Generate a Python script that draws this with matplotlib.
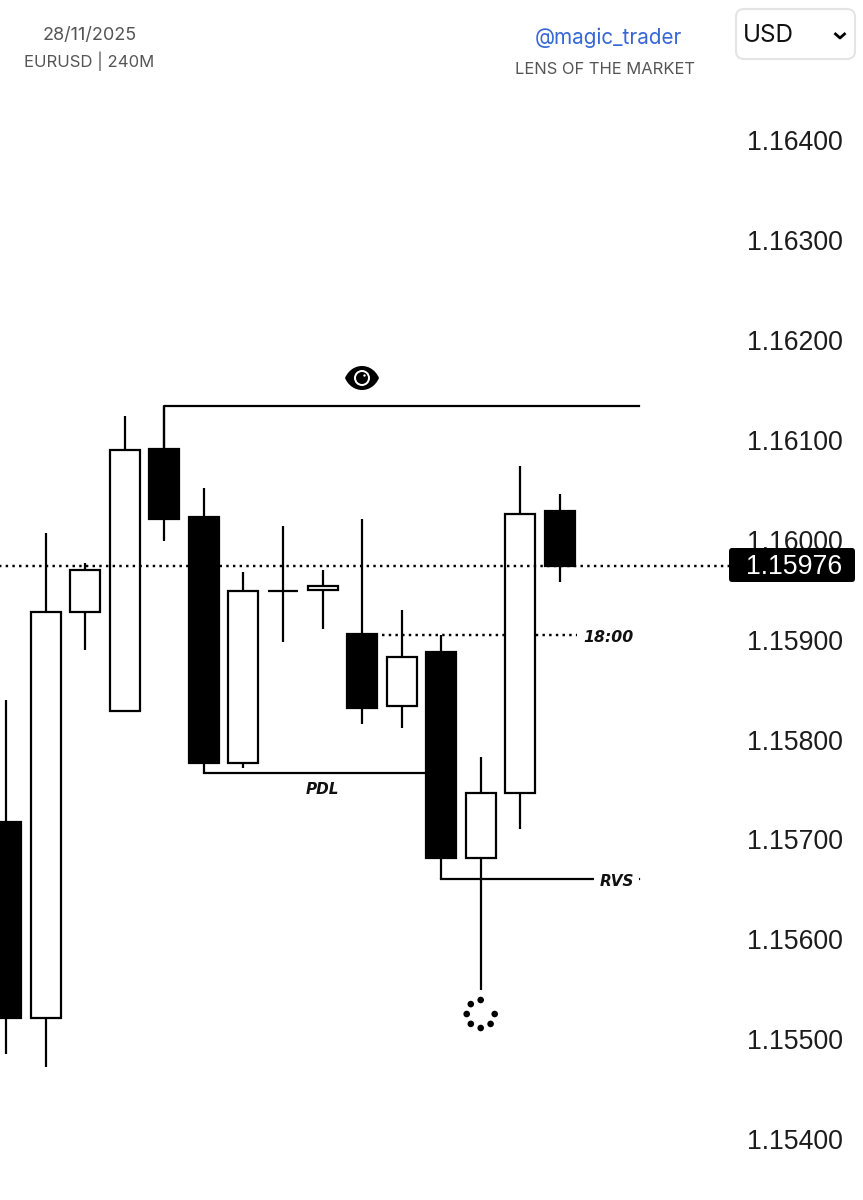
import matplotlib
matplotlib.use('Agg')
import matplotlib.pyplot as plt
import numpy as np
from matplotlib.patches import Circle, FancyBboxPatch, PathPatch
from matplotlib.path import Path
from matplotlib.transforms import Affine2D

W, H = 863, 1200
plt.rcParams['font.family'] = ['Inter', 'DejaVu Sans']

# candles, oldest first
opens = [1.15719, 1.15523, 1.15930, 1.15830, 1.16093, 1.16025, 1.15778, 1.15951,
         1.15952, 1.15908, 1.15835, 1.15889, 1.15683, 1.15748, 1.16031]
closes = [1.15523, 1.15930, 1.15972, 1.16092, 1.16023, 1.15778, 1.15951, 1.15951,
          1.15956, 1.15833, 1.15884, 1.15683, 1.15748, 1.16028, 1.15976]
highs = [1.15841, 1.16009, 1.15979, 1.16126, 1.16136, 1.16054, 1.15970, 1.16016,
         1.15972, 1.16023, 1.15932, 1.15907, 1.15784, 1.16076, 1.16048]
lows = [1.15487, 1.15474, 1.15891, 1.15830, 1.16001, 1.15768, 1.15773, 1.15900,
        1.15913, 1.15817, 1.15813, 1.15662, 1.15551, 1.15712, 1.15960]
price_ticks = [1.16400, 1.16300, 1.16200, 1.16100, 1.16000, 1.15900,
               1.15800, 1.15700, 1.15600, 1.15500, 1.15400]
last_price = 1.15976
swing_high = 1.16136
pdl = 1.15768
rvs = 1.15662
level_18 = 1.15907

fig = plt.figure(figsize=(W / 100, H / 100), dpi=100)
ax = fig.add_axes([0, 0, 1, 1])
step = 39.57
ax.set_xlim(-6 / step, (W - 6) / step)
ax.set_ylim(1.164 - (H - 142) / 99900, 1.164 + 142 / 99900)
ax.axis('off')

# reference picture pixels -> figure
px = Affine2D().scale(1 / W, -1 / H).translate(0, 1) + fig.transFigure
edge_x = (639 - 6) / step    # right end of the plot area
tag_x = (729 - 6) / step
dots_end = (577 - 6) / step

xs = np.arange(len(opens))
opens, closes, highs, lows = map(np.array, (opens, closes, highs, lows))
up = closes >= opens
lw = 1.6

# levels
dots = (0, (1, 1.75))
ax.plot([-1, tag_x], [last_price, last_price], color='black', lw=1.75, ls=dots, zorder=4)
ax.plot([9, dots_end], [level_18, level_18], color='black', lw=1.75, ls=dots, zorder=1)
ax.plot([4, 4, edge_x], [opens[4], swing_high, swing_high], color='black', lw=lw, zorder=1)
ax.plot([5, 5, 11], [lows[5], pdl, pdl], color='black', lw=lw, zorder=1)
ax.plot([11, 11, edge_x], [lows[11], rvs, rvs], color='black', lw=lw, zorder=1)

# candles
ax.vlines(xs, lows, highs, color='black', lw=lw, zorder=2)
ax.bar(xs, np.abs(closes - opens), 0.76, bottom=np.minimum(opens, closes),
       color=['white' if u else 'black' for u in up], edgecolor='black', lw=lw, zorder=3)


def label(x, y, s, **kw):
    kw.setdefault('ha', 'center')
    kw.setdefault('va', 'center')
    return fig.text(x, y, s, transform=px, **kw)


# price scale
scale = dict(family='Liberation Sans', fontsize=19.2, ha='right', va='center')
nudge = 0.000012   # text sits a little lower than the level
for p in price_ticks:
    ax.text((842.5 - 6) / step, p - nudge, '%.5f' % p, color='#1c1c1c', **scale)
ax.add_patch(FancyBboxPatch((733, 552), 118, 26, boxstyle='round,pad=4,rounding_size=3',
                            transform=px, facecolor='black', edgecolor='none', zorder=5))
ax.text((842.5 - 6) / step, last_price - nudge, '%.5f' % last_price, color='white', zorder=6, **scale)

# labels on the chart
lab = dict(family='DejaVu Sans', style='oblique', weight='bold', color='#111111')
label(322, 789, 'PDL', fontsize=11, **lab)
label(608, 637, '18:00', fontsize=11.3, **lab)
t = label(616.5, 881, 'RVS', fontsize=11, zorder=5, **lab)
t.set_bbox(dict(facecolor='white', edgecolor='none', pad=3.5))

# header
label(89.5, 36, '28/11/2025', fontsize=13, color='#555555')
label(89.5, 61, 'EURUSD | 240M', fontsize=12, color='#555555')
label(608, 38, '@magic_trader', fontsize=14.9, color='#3567d6')
label(605, 69, 'LENS OF THE MARKET', fontsize=11.9, color='#555555')

# currency select
ax.add_patch(FancyBboxPatch((741, 14), 109, 40, boxstyle='round,pad=5,rounding_size=8',
                            transform=px, facecolor='white', edgecolor='#e4e4e4', lw=1.5, zorder=5))
label(768, 36, 'USD', fontsize=17.5, color='#111111', zorder=6)
ax.plot([835.5, 840, 844.5], [34, 38, 34], transform=px, color='black', lw=2, zorder=6)

# eye icon
eye = Path([(345, 378), (352, 362), (372, 362), (379, 378), (372, 394), (352, 394), (345, 378)],
           [Path.MOVETO, Path.CURVE4, Path.CURVE4, Path.CURVE4, Path.CURVE4, Path.CURVE4, Path.CURVE4])
ax.add_patch(PathPatch(eye, transform=px, facecolor='black', edgecolor='none', zorder=5))
ax.add_patch(Circle((362, 378), 8, transform=px, facecolor='white', edgecolor='none', zorder=6))
ax.add_patch(Circle((362, 378), 6, transform=px, facecolor='black', edgecolor='none', zorder=7))
ax.add_patch(Circle((364.5, 375.5), 1.2, transform=px, facecolor='white', edgecolor='none', zorder=8))

# spinner under the long wick
for a in np.deg2rad([90, 135, 180, 225, 270, 315, 0]):
    ax.add_patch(Circle((480.7 + 14 * np.cos(a), 1014 - 14 * np.sin(a)), 3.3,
                        transform=px, facecolor='black', edgecolor='none', zorder=5))

fig.savefig('out.png', dpi=100)
